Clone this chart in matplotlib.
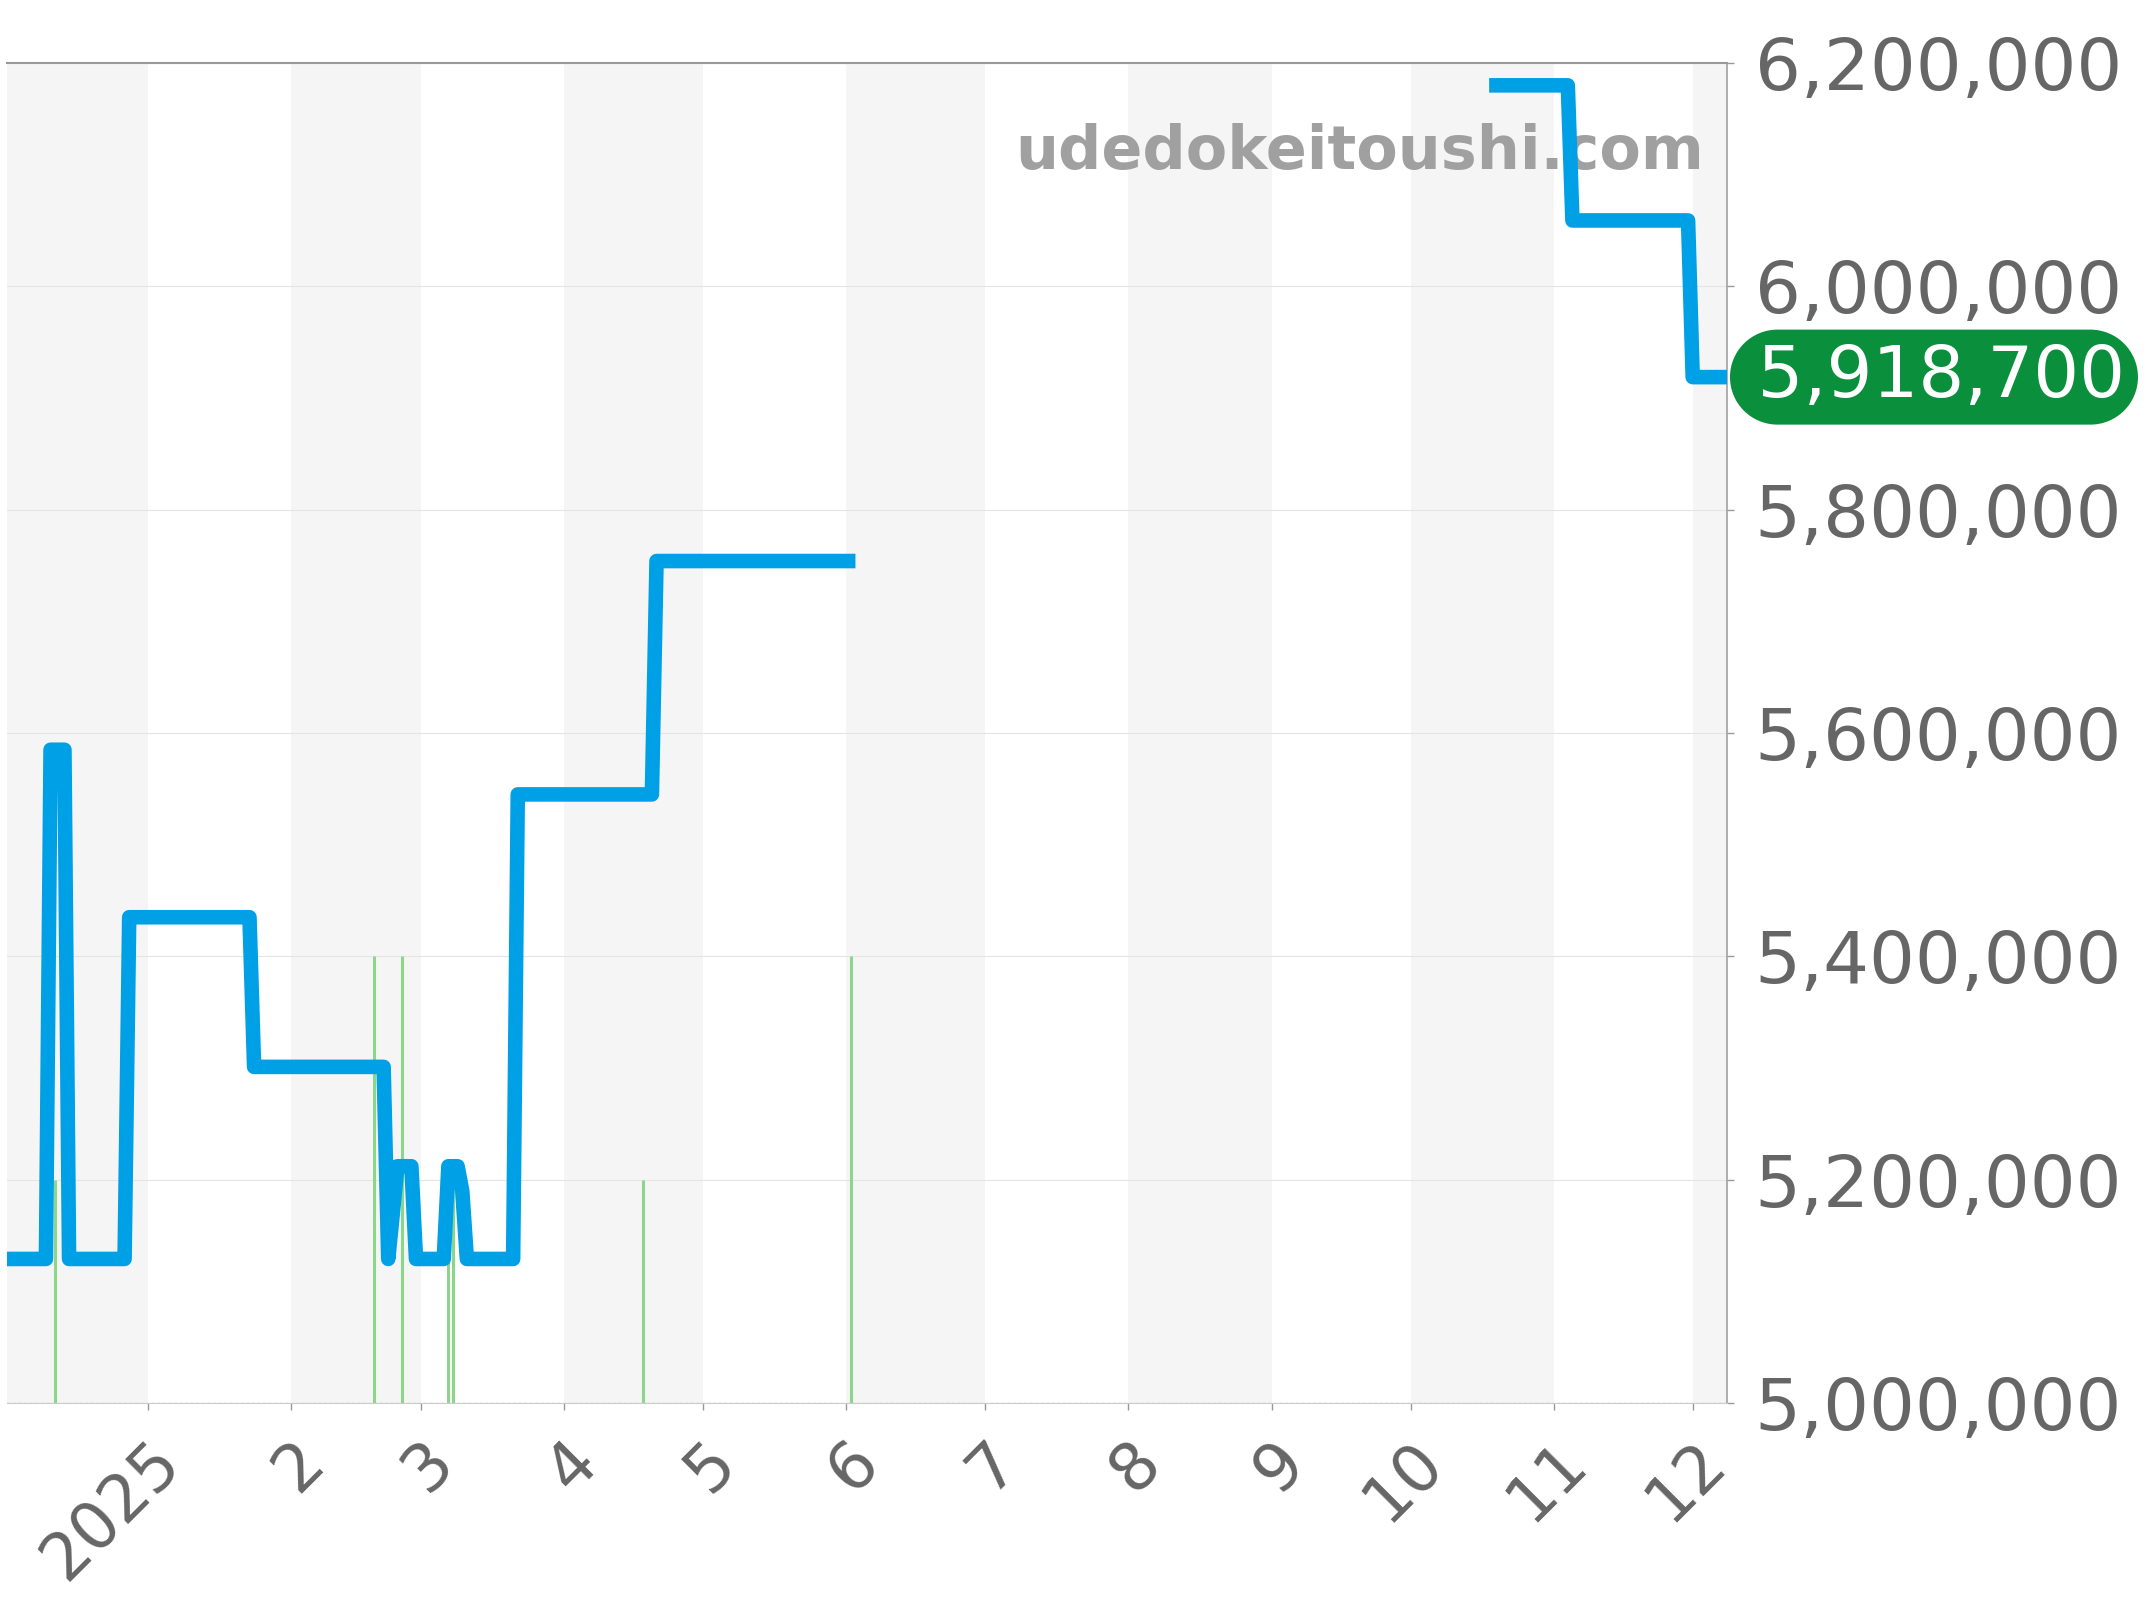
import matplotlib
import numpy as np
import pandas as pd

matplotlib.use("Agg")
import matplotlib.pyplot as plt  # noqa: E402
from matplotlib.path import Path  # noqa: E402
from matplotlib.ticker import FuncFormatter  # noqa: E402


# price history (NaN = no listing, leaves a gap in the line)
price_dates = [
    "2024-12-01", "2024-12-10", "2024-12-11", "2024-12-14", "2024-12-15",
    "2024-12-27", "2024-12-28", "2025-01-23", "2025-01-24", "2025-02-21",
    "2025-02-22", "2025-02-24", "2025-02-27", "2025-02-28", "2025-03-06",
    "2025-03-07", "2025-03-09", "2025-03-10", "2025-03-11", "2025-03-21",
    "2025-03-22", "2025-04-20", "2025-04-21", "2025-06-03", "2025-08-01",
    "2025-10-18", "2025-11-04", "2025-11-05", "2025-11-30", "2025-12-01",
    "2025-12-09",
]
price_values = [
    5129000, 5129000, 5585000, 5585000, 5129000,
    5129000, 5435000, 5435000, 5301000, 5301000,
    5129000, 5212000, 5212000, 5129000, 5129000,
    5212000, 5212000, 5190000, 5129000, 5129000,
    5545000, 5545000, 5754000, 5754000, np.nan,
    6180000, 6180000, 6059000, 6059000, 5918700,
    5918700,
]

# listing counts (green bars at the bottom)
volume_dates = ["2024-12-12", "2025-02-19", "2025-02-25", "2025-03-07",
                "2025-03-08", "2025-04-18", "2025-06-02"]
volume_counts = [1, 2, 2, 1, 1, 1, 2]

month_labels = ["2025", "2", "3", "4", "5", "6", "7", "8", "9", "10", "11", "12"]
y_ticks = [5000000, 5200000, 5400000, 5600000, 5800000, 6000000, 6200000]
last_price = 5918700


def pill_box(x0, y0, width, height, mutation_size):
    # rounded "pill" badge with true semicircular ends
    pad = 0.18 * mutation_size
    x0, y0 = x0 - pad, y0 - pad
    x1 = x0 + width + 2 * pad
    r = (height + 2 * pad) / 2
    left = Path.arc(90, 270)
    right = Path.arc(-90, 90)
    lv = left.vertices * r + [x0 + r, y0 + r]
    rv = right.vertices * r + [x1 - r, y0 + r]
    verts = np.concatenate([lv, rv, lv[:1]])
    codes = np.concatenate([left.codes, [Path.LINETO], right.codes[1:], [Path.CLOSEPOLY]])
    return Path(verts, codes)


dates = pd.to_datetime(price_dates)
values = np.array(price_values, dtype=float)

fig = plt.figure(figsize=(21.44, 16), dpi=100)
ax = fig.add_axes([7 / 2144, 197 / 1600, 1720 / 2144, 1340 / 1600])

# alternating month bands
month_starts = pd.date_range("2024-12-01", "2026-01-01", freq="MS")
for i in range(len(month_starts) - 1):
    if i % 2 == 0:
        ax.axvspan(month_starts[i], month_starts[i + 1], color="#f5f5f5", lw=0, zorder=0)

ax.set_axisbelow(True)
ax.grid(axis="y", color="#e4e4e4", lw=0.8)

# volume bars on the axis fraction scale (6 counts = full height)
ax.vlines(pd.to_datetime(volume_dates), 0, np.array(volume_counts) / 6,
          transform=ax.get_xaxis_transform(), color="#8cd68c", lw=2.2, zorder=1)
ax.axhline(y_ticks[0], color="#a6dca6", lw=1.0, ls=(0, (2, 2)), zorder=1)

ax.plot(dates, values, color="#00a0e6", lw=10.5, solid_joinstyle="round",
        solid_capstyle="butt", zorder=3)

ax.set_xlim(pd.Timestamp("2024-12-01 14:00"), pd.Timestamp("2025-12-08 10:00"))
ax.set_ylim(y_ticks[0], y_ticks[-1])

ax.set_xticks(month_starts[1:13])
ax.set_xticklabels(month_labels)
ax.set_yticks(y_ticks)
ax.yaxis.set_major_formatter(FuncFormatter(lambda v, _: f"{v:,.0f}"))
ax.yaxis.tick_right()

ax.tick_params(axis="y", length=5, width=1, color="#999999",
               labelsize=52, labelcolor="#666666", pad=15)
ax.tick_params(axis="x", length=5, width=1, color="#999999",
               labelsize=47, labelcolor="#666666", pad=14)
plt.setp(ax.get_xticklabels(), rotation=45, ha="right", rotation_mode="anchor")

ax.spines["left"].set_visible(False)
ax.spines["top"].set_color("#999999")
ax.spines["top"].set_linewidth(1.5)
ax.spines["right"].set_color("#999999")
ax.spines["right"].set_linewidth(1.1)
ax.spines["bottom"].set_color("#cccccc")
ax.spines["bottom"].set_linewidth(0.8)

ax.text(0.9865, 0.933, "udedokeitoushi.com", transform=ax.transAxes,
        ha="right", va="center", fontsize=43.5, fontweight="bold", color="#a0a0a0", zorder=2)

# latest price badge
ax.annotate(f"\u2009{last_price:,}", xy=(1, last_price), xycoords=("axes fraction", "data"),
            xytext=(11.5, 0), textcoords="offset points", ha="left", va="center",
            fontsize=52, color="white", annotation_clip=False,
            bbox=dict(boxstyle=pill_box, fc="#0a903c", ec="none"))

fig.savefig("out.png", dpi=100)
plt.close(fig)
